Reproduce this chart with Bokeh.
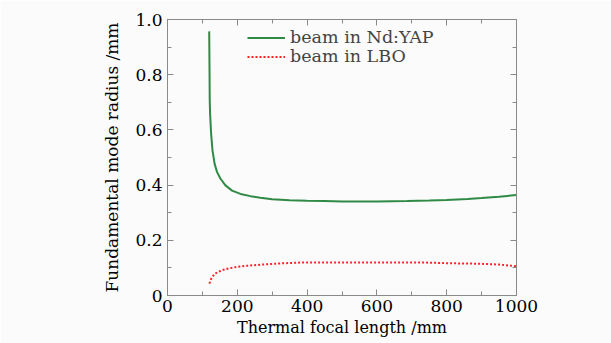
from bokeh.plotting import figure
from bokeh.models import LinearAxis, Range1d, Legend, LegendItem, FixedTicker, CustomJSTickFormatter
from bokeh.embed import file_html
from bokeh.resources import INLINE

# Data
yap_x = [119.5, 120.5, 121, 122, 125, 129, 135, 142, 152, 166, 185, 209, 238, 266, 300,
         350, 400, 450, 500, 600, 687, 750, 800, 860, 900, 950, 1000]
yap_y = [0.957, 0.80, 0.707, 0.66, 0.586, 0.525, 0.477, 0.447, 0.423, 0.399, 0.380, 0.368, 0.360,
         0.354, 0.349, 0.345, 0.343, 0.342, 0.341, 0.341, 0.342, 0.344, 0.346, 0.350,
         0.353, 0.358, 0.364]
lbo_x = [120, 125, 130, 137, 150, 160, 175, 200, 230, 272, 320, 395, 500, 600, 700, 750, 800, 850,
         900, 950, 1000]
lbo_y = [0.043, 0.06, 0.07, 0.08, 0.088, 0.093, 0.098, 0.104, 0.108, 0.112, 0.116, 0.12, 0.12, 0.12,
         0.12, 0.119, 0.117, 0.116, 0.115, 0.112, 0.106]

x_ticks = [0, 200, 400, 600, 800, 1000]
y_ticks = [0, 0.2, 0.4, 0.6, 0.8, 1.0]
y_tick_labels = {0: "0", 0.2: "0.2", 0.4: "0.4", 0.6: "0.6", 0.8: "0.8", 1.0: "1.0"}

FONT = "DejaVu Serif"
BG = "#fbfbfb"
FRAME = "#8a8a8a"

p = figure(width=611, height=343, output_backend="svg", toolbar_location=None,
           x_range=Range1d(0, 1000), y_range=Range1d(0, 1.0),
           min_border_left=167, min_border_right=95, min_border_top=19, min_border_bottom=48,
           background_fill_color=BG, border_fill_color=BG)
p.outline_line_color = FRAME
p.grid.visible = False

l1 = p.line(yap_x, yap_y, line_color="#2f8a46", line_width=2)
l2 = p.line(lbo_x, lbo_y, line_color="#ff2222", line_width=2, line_dash="2 2")

def style(ax, label_size, labels=True):
    ax.axis_line_color = FRAME
    ax.major_tick_line_color = FRAME
    ax.minor_tick_line_color = FRAME
    ax.major_tick_in = 6
    ax.major_tick_out = 0
    ax.minor_tick_in = 4
    ax.minor_tick_out = 0
    ax.major_label_text_font = FONT
    ax.major_label_text_font_size = "17px"
    ax.major_label_text_color = "black"
    ax.axis_label_text_font = FONT
    ax.axis_label_text_font_size = label_size
    ax.axis_label_text_font_style = "normal"
    ax.axis_label_text_color = "black"
    if not labels:
        ax.formatter = CustomJSTickFormatter(code="return ''")
        ax.major_label_standoff = 0

xt = FixedTicker(ticks=x_ticks, minor_ticks=list(range(0, 1001, 100)))
yt = FixedTicker(ticks=y_ticks, minor_ticks=[i / 10 for i in range(11)])

p.xaxis.ticker = xt
p.yaxis.ticker = yt
p.xaxis.axis_label = "Thermal focal length /mm"
p.yaxis.axis_label = "Fundamental mode radius /mm"
p.yaxis.major_label_overrides = y_tick_labels
style(p.xaxis[0], "16px")
style(p.yaxis[0], "17px")
p.xaxis.major_label_standoff = 4
p.yaxis.major_label_standoff = 5
p.xaxis.axis_label_standoff = 3
p.yaxis.axis_label_standoff = 10

top = LinearAxis(ticker=xt)
style(top, "17px", labels=False)
right = LinearAxis(ticker=yt)
style(right, "17px", labels=False)
p.add_layout(top, "above")
p.add_layout(right, "right")

def make_legend(label, r, y):
    lg = Legend(items=[LegendItem(label=label, renderers=[r])], location=(80, y))
    lg.label_text_font = FONT
    lg.label_text_font_size = "17.5px"
    lg.border_line_alpha = 0
    lg.background_fill_alpha = 0
    lg.padding = 0
    lg.margin = 0
    lg.spacing = 0
    lg.glyph_width = 38
    lg.glyph_height = 17
    lg.label_height = 17
    lg.label_standoff = 5
    p.add_layout(lg, "center")

make_legend("beam in Nd:YAP", l1, 248)
make_legend("beam in LBO", l2, 229)

open("out.html", "w").write(file_html(p, INLINE))
